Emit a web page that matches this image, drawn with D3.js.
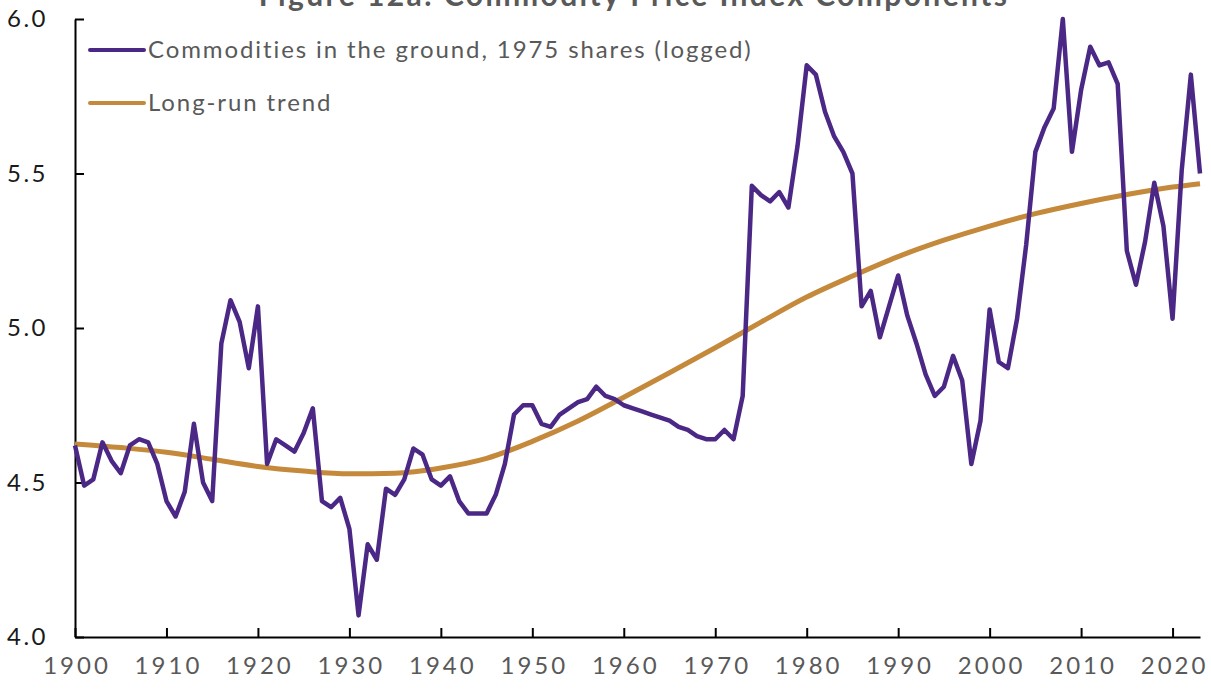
<!DOCTYPE html>
<meta charset="utf-8" />
<html>
<head>
<script src="https://d3js.org/d3.v7.min.js"></script>
<style>
  body { margin: 0; background: #fff; }
  text { font-family: Lato, "Open Sans", sans-serif; }
</style>
</head>
<body>
<script type="text/javascript">
// years 1900..2023, one value each
var years = d3.range(1900, 2024);
var commodities = [
  4.62, 4.49, 4.51, 4.63, 4.57, 4.53, 4.62, 4.64, 4.63, 4.56,
  4.44, 4.39, 4.47, 4.69, 4.50, 4.44, 4.95, 5.09, 5.02, 4.87,
  5.07, 4.56, 4.64, 4.62, 4.60, 4.66, 4.74, 4.44, 4.42, 4.45,
  4.35, 4.07, 4.30, 4.25, 4.48, 4.46, 4.51, 4.61, 4.59, 4.51,
  4.49, 4.52, 4.44, 4.40, 4.40, 4.40, 4.46, 4.56, 4.72, 4.75,
  4.75, 4.69, 4.68, 4.72, 4.74, 4.76, 4.77, 4.81, 4.78, 4.77,
  4.75, 4.74, 4.73, 4.72, 4.71, 4.70, 4.68, 4.67, 4.65, 4.64,
  4.64, 4.67, 4.64, 4.78, 5.46, 5.43, 5.41, 5.44, 5.39, 5.59,
  5.85, 5.82, 5.70, 5.62, 5.57, 5.50, 5.07, 5.12, 4.97, 5.07,
  5.17, 5.04, 4.95, 4.85, 4.78, 4.81, 4.91, 4.83, 4.56, 4.70,
  5.06, 4.89, 4.87, 5.03, 5.27, 5.57, 5.65, 5.71, 6.00, 5.57,
  5.77, 5.91, 5.85, 5.86, 5.79, 5.25, 5.14, 5.28, 5.47, 5.33,
  5.03, 5.51, 5.82, 5.50
];
var trendYears = [1900, 1905, 1910, 1915, 1920, 1925, 1930, 1935, 1940, 1945, 1950, 1955, 1960,
                  1965, 1970, 1975, 1980, 1985, 1990, 1995, 2000, 2005, 2010, 2015, 2020, 2023];
var trendValues = [4.625, 4.613, 4.598, 4.575, 4.552, 4.537, 4.528, 4.530, 4.547, 4.578, 4.633, 4.699, 4.776,
                   4.855, 4.936, 5.019, 5.100, 5.168, 5.231, 5.284, 5.330, 5.370, 5.403, 5.432, 5.456, 5.467];
var xTicks = d3.range(1900, 2030, 10);
var yTicks = [4.0, 4.5, 5.0, 5.5, 6.0];
var seriesNames = ["Commodities in the ground, 1975 shares (logged)", "Long-run trend"];
var seriesColors = ["#4b2885", "#c4893b"];

var width = 1211, height = 689;
var svg = d3.select('body').append('svg')
    .attr('width', width)
    .attr('height', height);

var x = d3.scaleLinear().domain([1900, 2023]).range([75, 1200]);
var y = d3.scaleLinear().domain([4, 6]).range([637, 19]);

// title, mostly cut off at the top
svg.append('text')
    .attr('x', 634)
    .attr('y', 6)
    .attr('text-anchor', 'middle')
    .style('font-size', '30px')
    .style('font-weight', 'bold')
    .style('letter-spacing', '2.4px')
    .style('fill', '#595959')
    .text('Figure 12a: Commodity Price Index Components');

// axes
var yAxis = svg.append('g')
    .attr('transform', 'translate(' + x(1900) + ',0)')
    .call(d3.axisLeft(y).tickValues(yTicks).tickFormat(d3.format('.1f'))
      .tickSizeInner(-9).tickSizeOuter(0).tickPadding(27));
yAxis.selectAll('text')
    .style('font-size', '24px')
    .style('letter-spacing', '2.5px')
    .style('fill', '#1a1a1a');

var xAxis = svg.append('g')
    .attr('transform', 'translate(0,' + y(4) + ')')
    .call(d3.axisBottom(x).tickValues(xTicks).tickFormat(d3.format('d'))
      .tickSizeInner(-9).tickSizeOuter(0).tickPadding(20));
xAxis.selectAll('text')
    .attr('dx', '1.5px')
    .style('font-size', '24px')
    .style('letter-spacing', '3px')
    .style('fill', '#595959');

svg.selectAll('.domain, .tick line')
    .attr('stroke', '#000')
    .attr('stroke-width', 2);

// lines
var line = d3.line()
    .x(function(d) { return x(d[0]); })
    .y(function(d) { return y(d[1]); });

svg.append('path')
    .attr('d', line.curve(d3.curveMonotoneX)(d3.zip(trendYears, trendValues)))
    .attr('fill', 'none')
    .attr('stroke', seriesColors[1])
    .attr('stroke-width', 5);

svg.append('path')
    .attr('d', line.curve(d3.curveLinear)(d3.zip(years, commodities)))
    .attr('fill', 'none')
    .attr('stroke', seriesColors[0])
    .attr('stroke-width', 4.5)
    .attr('stroke-linejoin', 'round');

// legend
var legend = svg.append('g');
seriesNames.forEach(function(name, i) {
  var ly = 50 + i * 53;
  legend.append('line')
      .attr('x1', 90).attr('x2', 144)
      .attr('y1', ly).attr('y2', ly)
      .attr('stroke', seriesColors[i])
      .attr('stroke-width', 4)
      .attr('stroke-linecap', 'round');
  legend.append('text')
      .attr('x', 148)
      .attr('y', ly)
      .attr('dy', '0.35em')
      .style('font-size', '24px')
      .style('letter-spacing', '1.9px')
      .style('fill', '#595959')
      .text(name);
});
</script>
</body>
</html>
